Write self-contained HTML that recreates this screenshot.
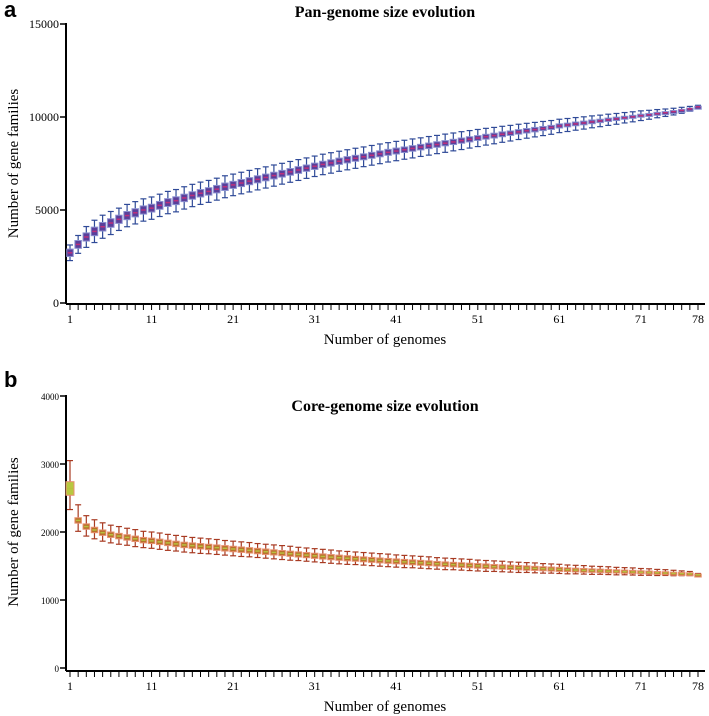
<!DOCTYPE html>
<html><head><meta charset="utf-8"><style>
body{margin:0;background:#fff;}
svg{display:block;font-family:"Liberation Serif",serif;}
</style></head><body>
<svg id="chart" width="709" height="716" viewBox="0 0 709 716">
<text x="4" y="17" font-family="Liberation Sans, sans-serif" font-weight="bold" font-size="22">a</text>
<text x="385" y="17" text-anchor="middle" font-weight="bold" font-size="16">Pan-genome size evolution</text>
<text x="4" y="387" font-family="Liberation Sans, sans-serif" font-weight="bold" font-size="22">b</text>
<text x="385" y="411" text-anchor="middle" font-weight="bold" font-size="16">Core-genome size evolution</text>
<g id="pan"></g>
<g id="core"></g>
</svg>
<script>
const genomes = Array.from({length:78},(_,i)=>i+1);
const xTickLabels = [1,11,21,31,41,51,61,71,78];
const panYTicks = [0,5000,10000,15000];
const coreYTicks = [0,1000,2000,3000,4000];
const panMedian = [2700,3150,3550,3850,4100,4300,4500,4700,4850,5000,
5100,5250,5400,5500,5650,5780,5900,6000,6120,6250,
6350,6450,6550,6650,6750,6850,6950,7050,7150,7250,
7350,7450,7530,7620,7700,7780,7860,7940,8020,8100,
8170,8240,8310,8380,8450,8520,8590,8660,8730,8800,
8870,8940,9000,9070,9130,9200,9260,9320,9380,9440,
9520,9570,9630,9680,9740,9790,9850,9900,9960,10010,
10070,10120,10180,10230,10290,10360,10440,10550];
const panWhiskerHalf = [420,480,560,600,620,620,600,600,600,600,
600,600,600,600,600,600,600,590,590,590,
580,580,580,570,570,570,560,560,560,550,
550,550,550,540,540,540,530,530,530,520,
520,510,510,500,500,490,490,480,480,470,
460,450,440,430,420,410,400,390,380,370,
360,350,340,330,320,310,300,290,280,270,
260,240,220,200,180,160,130,80];
const panBoxHalf = [200,210,220,230,230,230,220,220,220,220,
210,210,210,210,200,200,200,200,200,200,
190,190,190,190,180,180,180,180,180,170,
170,170,170,170,170,160,160,160,160,160,
160,150,150,150,150,150,140,140,140,140,
130,130,130,130,120,120,120,120,110,110,
110,100,100,100,100,90,90,90,80,80,
80,70,70,60,60,50,40,30];
const coreMedian = [2640,2170,2080,2030,1990,1960,1940,1920,1900,1880,
1870,1855,1840,1825,1810,1800,1790,1780,1770,1760,
1750,1740,1730,1720,1710,1700,1690,1680,1670,1660,
1650,1640,1630,1622,1614,1606,1598,1590,1582,1575,
1568,1561,1554,1547,1540,1533,1526,1520,1514,1508,
1502,1496,1490,1485,1480,1475,1470,1465,1460,1455,
1450,1445,1440,1436,1432,1428,1424,1420,1416,1412,
1408,1404,1400,1396,1392,1388,1384,1370];
const coreWhiskerUp = [410,230,160,150,145,140,140,135,135,130,
130,130,125,125,125,120,120,120,120,115,
115,115,115,110,110,110,110,110,105,105,
105,105,105,100,100,100,100,100,100,100,
95,95,95,95,95,90,90,90,90,90,
85,85,85,85,80,80,80,80,75,75,
75,70,70,70,65,65,65,60,60,60,
55,55,50,50,45,40,35,20];
const coreWhiskerDown = [310,160,140,130,125,120,120,115,115,110,
110,110,110,105,105,105,105,100,100,100,
100,100,95,95,95,95,95,95,90,90,
90,90,90,90,90,85,85,85,85,85,
85,85,80,80,80,80,80,75,75,75,
75,75,70,70,70,70,65,65,65,60,
60,60,55,55,55,50,50,50,45,45,
45,40,40,35,35,30,25,15];
const coreBoxHalf = [100,40,40,40,40,40,40,40,40,40,
40,40,40,40,40,40,40,40,40,40,
40,40,40,40,40,38,38,38,38,38,
38,38,38,38,38,36,36,36,36,36,
36,36,36,36,36,34,34,34,34,34,
34,34,32,32,32,32,32,30,30,30,
30,28,28,28,26,26,26,24,24,24,
22,22,20,20,18,18,16,12];

const NS="http://www.w3.org/2000/svg";
function mk(parent,tag,attrs){const e=document.createElementNS(NS,tag);for(const k in attrs)e.setAttribute(k,attrs[k]);parent.appendChild(e);return e;}

function drawPanel(g,cfg){
  const xS=i=>cfg.x0+(i-1)*cfg.dx;
  const yS=v=>cfg.yBase-(v/cfg.yMax)*(cfg.yBase-cfg.yTop);
  const yA=mk(g,'line',{x1:cfg.axX,y1:cfg.yTop-1,x2:cfg.axX,y2:cfg.axY,stroke:'#000','stroke-width':2});
  
  
  const xA=mk(g,'line',{x1:cfg.axX,y1:cfg.axY,x2:705,y2:cfg.axY,stroke:'#000','stroke-width':2});
  
  
  cfg.yTicks.forEach(v=>{
    const y=yS(v);
    mk(g,'line',{x1:cfg.axX-6,y1:y,x2:cfg.axX,y2:y,stroke:'#000','stroke-width':1.5});
    const t=mk(g,'text',{x:cfg.axX-7,y:y+4,'text-anchor':'end','font-size':cfg.yFont});
    t.textContent=v;
    
    
  });
  genomes.forEach(i=>{
    mk(g,'line',{x1:xS(i),y1:cfg.axY,x2:xS(i),y2:cfg.axY+6,stroke:'#000','stroke-width':1});
  });
  xTickLabels.forEach(i=>{
    const t=mk(g,'text',{x:xS(i),y:cfg.axY+19,'text-anchor':'middle','font-size':12});
    t.textContent=i;
    
    
  });
  const xt=mk(g,'text',{x:385,y:cfg.axY+40,'text-anchor':'middle','font-size':15});
  xt.textContent='Number of genomes';
  
  
  const cy=(cfg.yTop+cfg.yBase)/2;
  const yt=mk(g,'text',{x:0,y:0,'text-anchor':'middle','font-size':15,transform:`translate(18,${cy}) rotate(-90)`});
  yt.textContent='Number of gene families';
  
  
  genomes.forEach((i,k)=>{
    const x=xS(i), m=cfg.med[k];
    const b=mk(g,'g',{});
    
    
    const hi=yS(m+cfg.wUp[k]), lo=yS(m-cfg.wDn[k]);
    mk(b,'line',{x1:x,y1:hi,x2:x,y2:lo,stroke:cfg.wc,'stroke-width':1.2});
    mk(b,'line',{x1:x-3,y1:hi,x2:x+3,y2:hi,stroke:cfg.wc,'stroke-width':1.2});
    mk(b,'line',{x1:x-3,y1:lo,x2:x+3,y2:lo,stroke:cfg.wc,'stroke-width':1.2});
    const bt=yS(m+cfg.box[k]), bb=yS(m-cfg.box[k]);
    const w=k===0&&cfg.firstW?cfg.firstW:6.5;
    mk(b,'rect',{x:x-w/2,y:bt,width:w,height:Math.max(3,bb-bt),fill:k===0&&cfg.firstFill?cfg.firstFill:cfg.fill,stroke:cfg.bc,'stroke-width':1});
    mk(b,'line',{x1:x-w/2+1,y1:yS(m),x2:x+w/2-1,y2:yS(m),stroke:cfg.mc,'stroke-width':1.5});
  });
}
drawPanel(document.getElementById('pan'),{x0:70,dx:(698-70)/77,yBase:303,yTop:24,yMax:15000,axX:66,axY:304,yTicks:panYTicks,yFont:12,
  med:panMedian,wUp:panWhiskerHalf,wDn:panWhiskerHalf,box:panBoxHalf,wc:'#2f4a98',fill:'#5a3f9a',bc:'#8a90d0',mc:'#c0307a'});
drawPanel(document.getElementById('core'),{x0:70,dx:(698-70)/77,yBase:668,yTop:396,yMax:4000,axX:66,axY:671,yTicks:coreYTicks,yFont:9,
  med:coreMedian,wUp:coreWhiskerUp,wDn:coreWhiskerDown,box:coreBoxHalf,wc:'#a83a22',fill:'#b8702a',bc:'#e89070',mc:'#b8c040',firstFill:'#b8c840',firstW:8});
</script>
</body></html>
